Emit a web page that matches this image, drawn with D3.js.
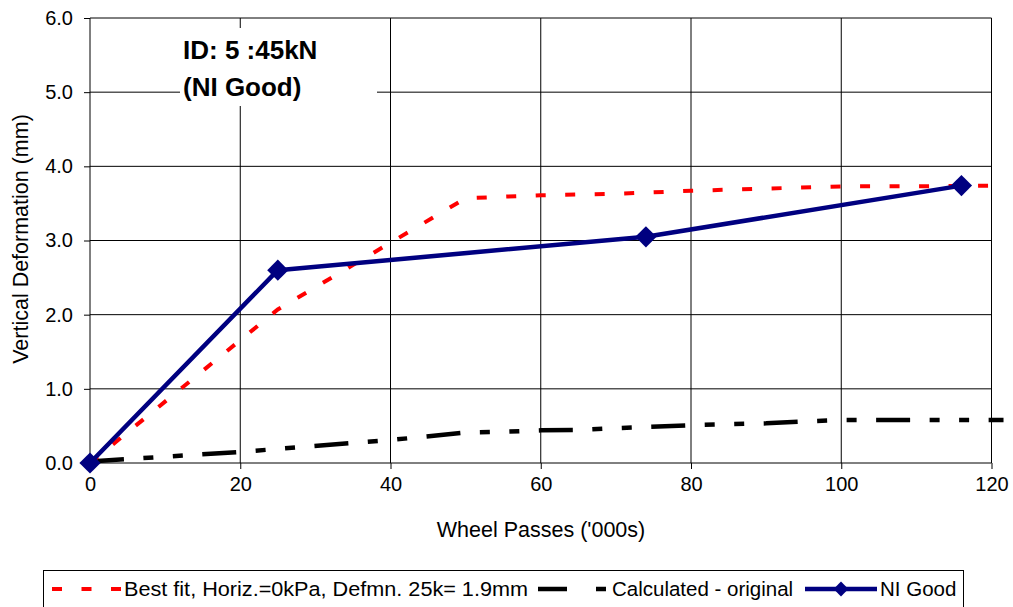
<!DOCTYPE html>
<html>
<head>
<meta charset="utf-8">
<script src="https://cdn.jsdelivr.net/npm/d3@7"></script>
<style>
  html, body { margin: 0; padding: 0; background: #fff; }
  svg { display: block; font-family: "Liberation Sans", Arial, sans-serif; }
</style>
</head>
<body>
<svg id="chart" width="1013" height="607"></svg>
<script>
// ---- data ----
const xTickValues = [0, 20, 40, 60, 80, 100, 120];
const yTickValues = [0, 1, 2, 3, 4, 5, 6];

const bestFitX = [0, 25, 50, 60, 70, 80, 90, 100, 110, 120];
const bestFitY = [0, 2.07, 3.57, 3.61, 3.63, 3.67, 3.70, 3.73, 3.73, 3.74];

const calcX = [0, 20, 40, 50, 55, 60, 65, 70, 80, 90, 95, 100, 121.6];
const calcY = [0.02, 0.15, 0.31, 0.41, 0.42, 0.44, 0.445, 0.47, 0.51, 0.535, 0.56, 0.58, 0.58];

const niX = [0, 25, 74, 116];
const niY = [0, 2.60, 3.05, 3.74];

const seriesNames = ["Best fit, Horiz.=0kPa, Defmn. 25k= 1.9mm", "Calculated - original", "NI Good"];
const titleLines = ["ID: 5 :45kN", "(NI Good)"];
const xTitle = "Wheel Passes ('000s)";
const yTitle = "Vertical Deformation (mm)";

// ---- layout ----
const svg = d3.select("#chart");
const x = d3.scaleLinear().domain([0, 120]).range([90, 991.5]);
const y = d3.scaleLinear().domain([0, 6]).range([463, 18]);

const redDash = "10,19.5";
const blackDash = "34,19.5,10,19.5,10,19.5";

// gridlines
const grid = svg.append("g");
grid.selectAll("line.v").data(xTickValues).join("line")
  .attr("x1", d => x(d)).attr("x2", d => x(d))
  .attr("y1", y(6)).attr("y2", y(0))
  .attr("stroke", "#000").attr("stroke-width", 1);
grid.selectAll("line.h").data(yTickValues).join("line")
  .attr("x1", x(0)).attr("x2", x(120))
  .attr("y1", d => y(d)).attr("y2", d => y(d))
  .attr("stroke", "#000").attr("stroke-width", 1);

// text box background (covers gridlines)
svg.append("rect").attr("x", 180).attr("y", 28).attr("width", 197).attr("height", 78).attr("fill", "#fff");
svg.append("text").attr("x", 183).attr("y", 59).attr("font-size", 26).attr("font-weight", "bold").text(titleLines[0]);
svg.append("text").attr("x", 183).attr("y", 96).attr("font-size", 26).attr("font-weight", "bold").text(titleLines[1]);

// axes
const xAxis = d3.axisBottom(x).tickValues(xTickValues).tickFormat(d3.format("d")).tickSize(6).tickPadding(8);
const gx = svg.append("g").attr("transform", `translate(0,${y(0)})`).call(xAxis);
gx.select(".domain").remove();
gx.selectAll("line").attr("stroke", "#000");
gx.selectAll("text").attr("font-size", 20).attr("font-family", "Liberation Sans, Arial, sans-serif").attr("fill", "#000");

const yAxis = d3.axisLeft(y).tickValues(yTickValues).tickFormat(d3.format(".1f")).tickSize(6).tickPadding(11);
const gy = svg.append("g").attr("transform", `translate(${x(0)},0)`).call(yAxis);
gy.select(".domain").remove();
gy.selectAll("line").attr("stroke", "#000");
gy.selectAll("text").attr("font-size", 20).attr("font-family", "Liberation Sans, Arial, sans-serif").attr("fill", "#000");

// axis titles
svg.append("text").attr("x", 541).attr("y", 537).attr("text-anchor", "middle").attr("font-size", 21.5).text(xTitle);
svg.append("text").attr("transform", "translate(28,239) rotate(-90)").attr("text-anchor", "middle").attr("font-size", 21.5).text(yTitle);

// series
const line = d3.line().x(d => x(d[0])).y(d => y(d[1]));
const bestFit = bestFitX.map((v, i) => [v, bestFitY[i]]);
const calc = calcX.map((v, i) => [v, calcY[i]]);
const ni = niX.map((v, i) => [v, niY[i]]);

svg.append("path").datum(calc).attr("d", line).attr("fill", "none")
  .attr("stroke", "#000").attr("stroke-width", 4.5).attr("stroke-dasharray", blackDash);
svg.append("path").datum(bestFit).attr("d", line).attr("fill", "none")
  .attr("stroke", "#ff0000").attr("stroke-width", 4).attr("stroke-dasharray", redDash);
svg.append("path").datum(ni).attr("d", line).attr("fill", "none")
  .attr("stroke", "#000080").attr("stroke-width", 4.5).attr("stroke-linejoin", "round");

svg.selectAll("path.marker").data(ni).join("path").attr("class", "marker")
  .attr("d", d3.symbol().type(d3.symbolSquare).size(225))
  .attr("transform", d => `translate(${x(d[0])},${y(d[1])}) rotate(45)`)
  .attr("fill", "#000080");

// legend
const lg = svg.append("g");
lg.append("rect").attr("x", 43.5).attr("y", 570.5).attr("width", 920).attr("height", 60)
  .attr("fill", "#fff").attr("stroke", "#000").attr("stroke-width", 1);
const ly = 589;
lg.append("line").attr("x1", 52).attr("x2", 121).attr("y1", ly).attr("y2", ly)
  .attr("stroke", "#ff0000").attr("stroke-width", 4).attr("stroke-dasharray", redDash);
lg.append("text").attr("x", 124).attr("y", 596).attr("font-size", 20.5)
  .attr("textLength", 404).attr("lengthAdjust", "spacingAndGlyphs").text(seriesNames[0]);
lg.append("line").attr("x1", 538).attr("x2", 606).attr("y1", ly).attr("y2", ly)
  .attr("stroke", "#000").attr("stroke-width", 4.5).attr("stroke-dasharray", "29,29,10,30");
lg.append("text").attr("x", 612).attr("y", 596).attr("font-size", 20.5).text(seriesNames[1]);
lg.append("line").attr("x1", 805).attr("x2", 877).attr("y1", ly).attr("y2", ly)
  .attr("stroke", "#000080").attr("stroke-width", 4.5);
lg.append("path").attr("d", d3.symbol().type(d3.symbolSquare).size(110))
  .attr("transform", `translate(841,${ly}) rotate(45)`).attr("fill", "#000080");
lg.append("text").attr("x", 880).attr("y", 596).attr("font-size", 20.5).text(seriesNames[2]);
</script>
</body>
</html>
